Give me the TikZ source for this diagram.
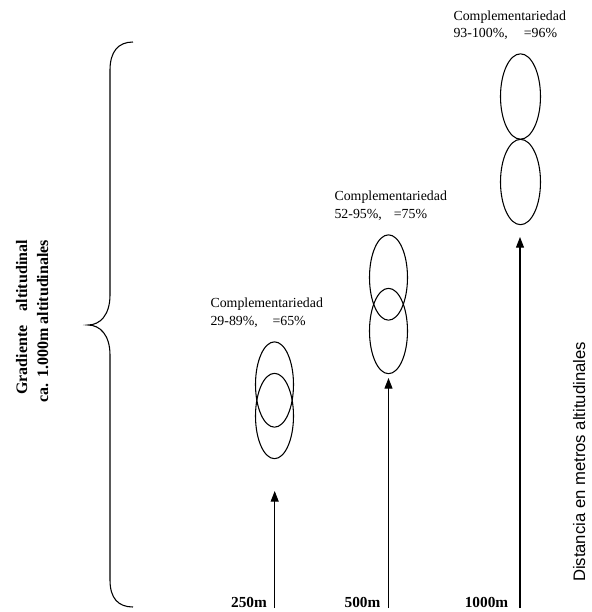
\documentclass[tikz,border=0pt]{standalone}
\usepackage{fontspec}
\setmainfont{Liberation Serif}
\newfontfamily\arialfont{Liberation Sans}
\usetikzlibrary{arrows.meta,shapes.geometric}
\begin{document}
\begin{tikzpicture}[x=0.75pt,y=-0.75pt, line width=0.8pt,
  oval/.style={draw, ellipse, inner sep=0pt, minimum width=28.5pt, minimum height=64pt},
  lbl/.style={anchor=base west, inner sep=0pt, font=\fontsize{10.4}{12}\selectfont},
  dist/.style={anchor=base, inner sep=0pt, font=\bfseries\fontsize{11.5}{13}\selectfont},
  vlbl/.style={rotate=90, anchor=base, inner sep=0pt, font=\bfseries\fontsize{12}{14}\selectfont},
  arr/.style={-{Triangle[length=8pt,width=6pt]}}]
\useasboundingbox (0,0) rectangle (592,612);
% ellipses
\node[oval] (e1u) at (274.5,384.5) {};
\node[oval] (e1l) at (274.5,416) {};
\node[oval] (e2u) at (388.5,277.5) {};
\node[oval] (e2l) at (388.5,331) {};
\node[oval, minimum width=30pt] (e3u) at (520.5,96.5) {};
\node[oval, minimum width=30pt] (e3l) at (520.5,182) {};
% arrows
\coordinate (a1s) at (274.7,608); \coordinate (a1e) at (274.7,491);
\coordinate (a2s) at (388.5,608); \coordinate (a2e) at (388.5,378);
\coordinate (a3s) at (520,608);   \coordinate (a3e) at (520,237);
\draw[arr] (a1s) -- (a1e);
\draw[arr] (a2s) -- (a2e);
\draw[arr] (a3s) -- (a3e);
% labels
\node[lbl] (c1) at (210,307) {Complementariedad};
\node[lbl] (p1) at (210,325) {29-89\%,\hspace{11pt}=65\%};
\node[lbl] (c2) at (334,200) {Complementariedad};
\node[lbl] (p2) at (334,218) {52-95\%,\hspace{9pt}=75\%};
\node[lbl] (c3) at (453,20) {Complementariedad};
\node[lbl] (p3) at (453,37) {93-100\%,\hspace{12pt}=96\%};
% distances
\node[dist] (d1) at (249,607) {250m};
\node[dist] (d2) at (362.5,607) {500m};
\node[dist] (d3) at (486.5,607) {1000m};
% brace
\draw (133,42) .. controls (118,42) and (110,52) .. (110,70) -- (110,295)
  .. controls (110,315) and (100,325) .. (88,325)
  .. controls (100,325) and (110,335) .. (110,355) -- (110,580)
  .. controls (110,598) and (118,607) .. (133,607);
% vertical texts
\node[vlbl] (g1) at (27,317.5) {\makebox[116pt][s]{Gradiente altitudinal}};
\node[vlbl] (g2) at (48,321) {ca. 1.000m altitudinales};
\node[rotate=90, anchor=base, inner sep=0pt, font=\arialfont\fontsize{12.5}{14}\selectfont] (dm) at (585,462) {Distancia en metros altitudinales};
\end{tikzpicture}
\end{document}
